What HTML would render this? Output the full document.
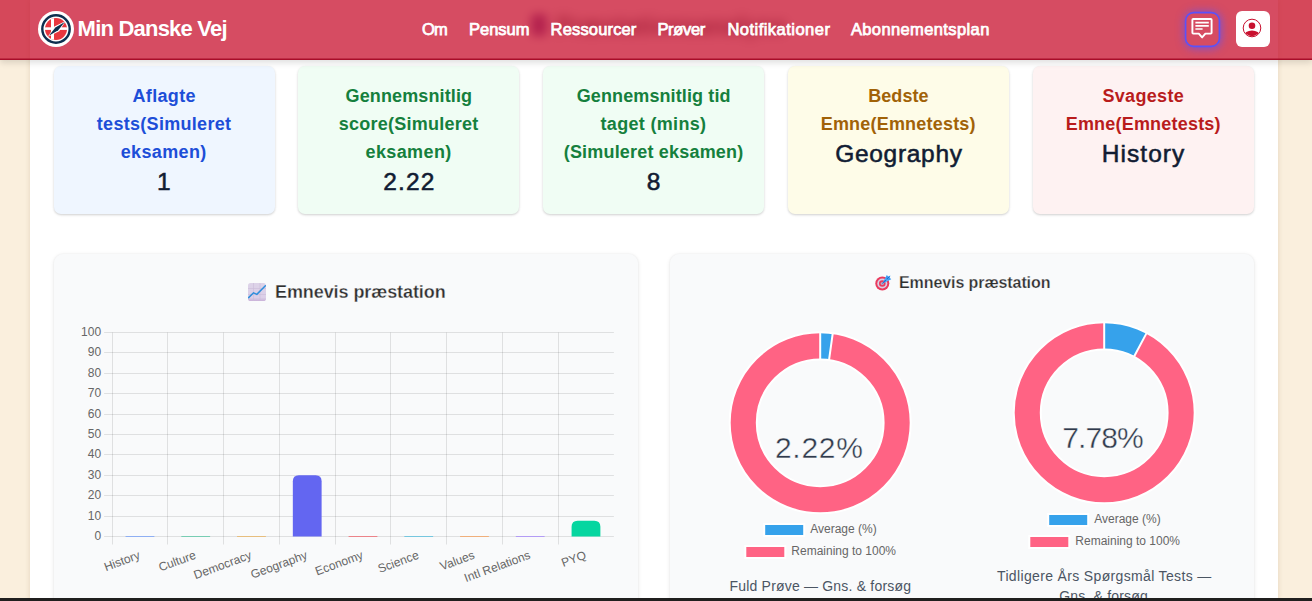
<!DOCTYPE html>
<html lang="da"><head><meta charset="utf-8"><title>Min Danske Vej</title>
<style>
*{box-sizing:border-box;margin:0;padding:0}
html,body{width:1312px;height:601px;overflow:hidden}
body{background:#faefdd;font-family:"Liberation Sans",sans-serif;position:relative}
.t{position:absolute;white-space:nowrap;line-height:1;font-family:"Liberation Sans",sans-serif}
.abs{position:absolute}
#wrap{position:absolute;left:30px;top:0;width:1248px;height:601px;background:#fff;box-shadow:0 0 5px rgba(120,90,40,.18)}
.card{position:absolute;top:66px;height:148px;border-radius:7px;box-shadow:0 1px 3px rgba(0,0,0,.12),0 1px 2px rgba(0,0,0,.08)}
.panel{position:absolute;top:254px;height:400px;width:584px;background:#f9fafb;border-radius:9px;box-shadow:0 1px 4px rgba(0,0,0,.10),0 0 2px rgba(0,0,0,.05)}
#hdr{position:absolute;left:0;top:0;width:1312px;height:60px;background:rgba(200,16,46,.75);border-bottom:1px solid #a80d29;box-shadow:inset 0 -1px 0 rgba(168,13,41,.5),0 3px 6px rgba(0,0,0,.12);z-index:5}
#hdrc{position:absolute;left:0;top:0;width:1312px;height:60px;z-index:6}
#botbar{position:absolute;left:0;top:598px;width:1312px;height:3px;background:#201f1e;z-index:9}
</style></head><body>
<div id="wrap"></div>

<div class="t" style="left:556px;top:14px;font-size:24px;font-weight:700;color:#4b5563;letter-spacing:0.2px;filter:blur(6px)">Pr&aelig;stationsanalyse</div>
<div class="abs" style="left:531px;top:14px;width:16px;height:22px;border-radius:4px;background:#7a5bb0;filter:blur(5px)"></div>
<div class="card" style="left:54px;width:221px;background:#eff6ff"></div>
<div class="card" style="left:298px;width:221px;background:#f0fdf4"></div>
<div class="card" style="left:543px;width:221px;background:#f0fdf4"></div>
<div class="card" style="left:788px;width:221px;background:#fefce8"></div>
<div class="card" style="left:1033px;width:221px;background:#fef2f2"></div>
<div class="t" style="left:132.50px;top:86px;font-size:18px;font-weight:700;color:#1d4ed8;letter-spacing:0.333px;line-height:20px;">Aflagte</div>
<div class="t" style="left:96.80px;top:114px;font-size:18px;font-weight:700;color:#1d4ed8;letter-spacing:0.300px;line-height:20px;">tests(Simuleret</div>
<div class="t" style="left:120.70px;top:142px;font-size:18px;font-weight:700;color:#1d4ed8;letter-spacing:0.357px;line-height:20px;">eksamen)</div>
<div class="t" style="left:157.00px;top:168px;font-size:24.5px;color:#111c33;letter-spacing:0.000px;-webkit-text-stroke:0.55px #111c33;line-height:27px;">1</div>
<div class="t" style="left:345.50px;top:86px;font-size:18px;font-weight:700;color:#15803d;letter-spacing:0.133px;line-height:20px;">Gennemsnitlig</div>
<div class="t" style="left:338.70px;top:114px;font-size:18px;font-weight:700;color:#15803d;letter-spacing:0.250px;line-height:20px;">score(Simuleret</div>
<div class="t" style="left:365.60px;top:142px;font-size:18px;font-weight:700;color:#15803d;letter-spacing:0.371px;line-height:20px;">eksamen)</div>
<div class="t" style="left:383.30px;top:168px;font-size:24.5px;color:#111c33;letter-spacing:1.100px;-webkit-text-stroke:0.55px #111c33;line-height:27px;">2.22</div>
<div class="t" style="left:576.70px;top:86px;font-size:18px;font-weight:700;color:#15803d;letter-spacing:0.112px;line-height:20px;">Gennemsnitlig tid</div>
<div class="t" style="left:600.50px;top:114px;font-size:18px;font-weight:700;color:#15803d;letter-spacing:0.327px;line-height:20px;">taget (mins)</div>
<div class="t" style="left:563.70px;top:142px;font-size:18px;font-weight:700;color:#15803d;letter-spacing:0.194px;line-height:20px;">(Simuleret eksamen)</div>
<div class="t" style="left:646.80px;top:168px;font-size:24.5px;color:#111c33;letter-spacing:0.000px;-webkit-text-stroke:0.55px #111c33;line-height:27px;">8</div>
<div class="t" style="left:868.20px;top:86px;font-size:18px;font-weight:700;color:#a16207;letter-spacing:0.080px;line-height:20px;">Bedste</div>
<div class="t" style="left:820.70px;top:114px;font-size:18px;font-weight:700;color:#a16207;letter-spacing:0.200px;line-height:20px;">Emne(Emnetests)</div>
<div class="t" style="left:835.20px;top:140px;font-size:24.5px;color:#111c33;letter-spacing:0.700px;-webkit-text-stroke:0.55px #111c33;line-height:27px;">Geography</div>
<div class="t" style="left:1102.40px;top:86px;font-size:18px;font-weight:700;color:#b91c1c;letter-spacing:0.329px;line-height:20px;">Svageste</div>
<div class="t" style="left:1065.70px;top:114px;font-size:18px;font-weight:700;color:#b91c1c;letter-spacing:0.200px;line-height:20px;">Emne(Emnetests)</div>
<div class="t" style="left:1101.80px;top:140px;font-size:24.5px;color:#111c33;letter-spacing:1.050px;-webkit-text-stroke:0.55px #111c33;line-height:27px;">History</div>
<div class="panel" style="left:54px"></div>
<div class="panel" style="left:670px"></div>
<svg class="abs" style="left:248px;top:283px" width="18" height="18" viewBox="0 0 18 18">
<defs><linearGradient id="lg1" x1="0" y1="0" x2="0" y2="1"><stop offset="0" stop-color="#ddd3e8"/><stop offset=".85" stop-color="#dccfe8"/><stop offset="1" stop-color="#c9b0d8"/></linearGradient></defs>
<rect x="0" y="0" width="18" height="18" rx="2.6" fill="url(#lg1)"/>
<path d="M5.5 0V18M12 0V18M0 5.5H18M0 11.5H18M0 16H18" stroke="#cbbcd9" stroke-width=".6" fill="none"/>
<path d="M.6 14.6L5.6 9.8L8.8 11.4L17.4 2.8" stroke="#2f8fdc" stroke-width="1.5" fill="none" stroke-linecap="round" stroke-linejoin="round"/>
</svg>
<div class="t" style="left:275.00px;top:282px;font-size:18px;font-weight:700;color:#2f2f2f;letter-spacing:-0.082px;line-height:20px;-webkit-text-stroke:0.3px #f9fafb;">Emnevis præstation</div>
<svg class="abs" style="left:874.5px;top:273.6px" width="17" height="17" viewBox="0 0 17 17">
<circle cx="7.3" cy="9.5" r="7" fill="#ea3a5e"/>
<circle cx="7.3" cy="9.5" r="5" fill="#d9cfe4"/>
<circle cx="7.3" cy="9.5" r="3.3" fill="#ea3a5e"/>
<circle cx="7.3" cy="9.5" r="1.6" fill="#b9a9c6"/>
<path d="M7.2 9.7L9.6 5.2L11.8 0.9L13.2 2.4L15.4 1.6L14.7 3.8L16.3 5.2L11.8 7.4Z" fill="#3d9df2"/>
<path d="M7.4 9.4L14.3 2.7" stroke="#1c64c8" stroke-width=".9"/>
<path d="M10.2 4.6L12.4 6.8" stroke="#8cc8ff" stroke-width=".7"/>
</svg>
<div class="t" style="left:899.00px;top:274px;font-size:16px;font-weight:700;color:#2f2f2f;letter-spacing:-0.088px;line-height:17px;-webkit-text-stroke:0.25px #f9fafb;">Emnevis præstation</div>
<svg class="abs" style="left:0;top:0" width="1312" height="601" viewBox="0 0 1312 601" font-family="Liberation Sans, sans-serif">
<path d="M104.1 536.5H613.9" stroke="#000" stroke-opacity="0.1" stroke-width="1"/>
<text x="101.1" y="539.9" text-anchor="end" font-size="12" fill="#666">0</text>
<path d="M104.1 516.5H613.9" stroke="#000" stroke-opacity="0.1" stroke-width="1"/>
<text x="101.1" y="519.9" text-anchor="end" font-size="12" fill="#666">10</text>
<path d="M104.1 495.5H613.9" stroke="#000" stroke-opacity="0.1" stroke-width="1"/>
<text x="101.1" y="498.9" text-anchor="end" font-size="12" fill="#666">20</text>
<path d="M104.1 475.5H613.9" stroke="#000" stroke-opacity="0.1" stroke-width="1"/>
<text x="101.1" y="478.9" text-anchor="end" font-size="12" fill="#666">30</text>
<path d="M104.1 454.5H613.9" stroke="#000" stroke-opacity="0.1" stroke-width="1"/>
<text x="101.1" y="457.9" text-anchor="end" font-size="12" fill="#666">40</text>
<path d="M104.1 434.5H613.9" stroke="#000" stroke-opacity="0.1" stroke-width="1"/>
<text x="101.1" y="437.9" text-anchor="end" font-size="12" fill="#666">50</text>
<path d="M104.1 414.5H613.9" stroke="#000" stroke-opacity="0.1" stroke-width="1"/>
<text x="101.1" y="417.9" text-anchor="end" font-size="12" fill="#666">60</text>
<path d="M104.1 393.5H613.9" stroke="#000" stroke-opacity="0.1" stroke-width="1"/>
<text x="101.1" y="396.9" text-anchor="end" font-size="12" fill="#666">70</text>
<path d="M104.1 373.5H613.9" stroke="#000" stroke-opacity="0.1" stroke-width="1"/>
<text x="101.1" y="376.9" text-anchor="end" font-size="12" fill="#666">80</text>
<path d="M104.1 352.5H613.9" stroke="#000" stroke-opacity="0.1" stroke-width="1"/>
<text x="101.1" y="355.9" text-anchor="end" font-size="12" fill="#666">90</text>
<path d="M104.1 332.5H613.9" stroke="#000" stroke-opacity="0.1" stroke-width="1"/>
<text x="101.1" y="335.9" text-anchor="end" font-size="12" fill="#666">100</text>
<path d="M112.5 332.5V544.5" stroke="#000" stroke-opacity="0.1" stroke-width="1"/>
<path d="M167.5 332.5V544.5" stroke="#000" stroke-opacity="0.1" stroke-width="1"/>
<path d="M223.5 332.5V544.5" stroke="#000" stroke-opacity="0.1" stroke-width="1"/>
<path d="M279.5 332.5V544.5" stroke="#000" stroke-opacity="0.1" stroke-width="1"/>
<path d="M335.5 332.5V544.5" stroke="#000" stroke-opacity="0.1" stroke-width="1"/>
<path d="M390.5 332.5V544.5" stroke="#000" stroke-opacity="0.1" stroke-width="1"/>
<path d="M446.5 332.5V544.5" stroke="#000" stroke-opacity="0.1" stroke-width="1"/>
<path d="M502.5 332.5V544.5" stroke="#000" stroke-opacity="0.1" stroke-width="1"/>
<path d="M558.5 332.5V544.5" stroke="#000" stroke-opacity="0.1" stroke-width="1"/>
<path d="M125.57 536.5H154.38" stroke="#7aa2f7" stroke-width="1" stroke-opacity=".8"/>
<text transform="translate(136.97 547.5) rotate(-20.3)" x="0" y="11.4" text-anchor="end" font-size="12" fill="#666">History</text>
<path d="M181.32 536.5H210.12" stroke="#5ec8a8" stroke-width="1" stroke-opacity=".8"/>
<text transform="translate(192.72 547.5) rotate(-20.3)" x="0" y="11.4" text-anchor="end" font-size="12" fill="#666">Culture</text>
<path d="M237.07 536.5H265.88" stroke="#e9b565" stroke-width="1" stroke-opacity=".8"/>
<text transform="translate(248.47 547.5) rotate(-20.3)" x="0" y="11.4" text-anchor="end" font-size="12" fill="#666">Democracy</text>
<path d="M292.83 536.5V481.30Q292.83 475.30 298.83 475.30H315.62Q321.62 475.30 321.62 481.30V536.5Z" fill="#6366f1"/>
<text transform="translate(304.23 547.5) rotate(-20.3)" x="0" y="11.4" text-anchor="end" font-size="12" fill="#666">Geography</text>
<path d="M348.58 536.5H377.38" stroke="#ef6b73" stroke-width="1" stroke-opacity=".8"/>
<text transform="translate(359.98 547.5) rotate(-20.3)" x="0" y="11.4" text-anchor="end" font-size="12" fill="#666">Economy</text>
<path d="M404.33 536.5H433.12" stroke="#5bc0de" stroke-width="1" stroke-opacity=".8"/>
<text transform="translate(415.73 547.5) rotate(-20.3)" x="0" y="11.4" text-anchor="end" font-size="12" fill="#666">Science</text>
<path d="M460.08 536.5H488.88" stroke="#f4a261" stroke-width="1" stroke-opacity=".8"/>
<text transform="translate(471.48 547.5) rotate(-20.3)" x="0" y="11.4" text-anchor="end" font-size="12" fill="#666">Values</text>
<path d="M515.83 536.5H544.62" stroke="#a78bfa" stroke-width="1" stroke-opacity=".8"/>
<text transform="translate(527.23 547.5) rotate(-20.3)" x="0" y="11.4" text-anchor="end" font-size="12" fill="#666">Intl Relations</text>
<path d="M571.58 536.5V526.63Q571.58 520.63 577.58 520.63H594.38Q600.38 520.63 600.38 526.63V536.5Z" fill="#06d6a0"/>
<text transform="translate(582.98 547.5) rotate(-20.3)" x="0" y="11.4" text-anchor="end" font-size="12" fill="#666">PYQ</text>
<circle cx="820.2" cy="422.8" r="76.95" fill="none" stroke="#ff6384" stroke-width="27.1"/><path d="M820.20 332.30A90.5 90.5 0 0 1 832.78 333.18L829.01 360.02A63.4 63.4 0 0 0 820.20 359.40Z" fill="#36a2eb"/><path d="M820.20 332.30L820.20 359.40M832.78 333.18L829.01 360.02" stroke="#fff" stroke-width="2"/><circle cx="820.2" cy="422.8" r="90.5" fill="none" stroke="#fff" stroke-width="2"/><circle cx="820.2" cy="422.8" r="63.4" fill="none" stroke="#fff" stroke-width="2"/>
<circle cx="1104.2" cy="412.8" r="76.95" fill="none" stroke="#ff6384" stroke-width="27.1"/><path d="M1104.20 322.30A90.5 90.5 0 0 1 1146.70 332.90L1133.97 356.83A63.4 63.4 0 0 0 1104.20 349.40Z" fill="#36a2eb"/><path d="M1104.20 322.30L1104.20 349.40M1146.70 332.90L1133.97 356.83" stroke="#fff" stroke-width="2"/><circle cx="1104.2" cy="412.8" r="90.5" fill="none" stroke="#fff" stroke-width="2"/><circle cx="1104.2" cy="412.8" r="63.4" fill="none" stroke="#fff" stroke-width="2"/>
<rect x="764.2" y="524" width="40" height="12" fill="#36a2eb" stroke="#fff" stroke-width="2"/><text x="810.2" y="533.3" font-size="12" fill="#666">Average (%)</text><rect x="745.3" y="546" width="40" height="12" fill="#ff6384" stroke="#fff" stroke-width="2"/><text x="791.3" y="555.3" font-size="12" fill="#666">Remaining to 100%</text>
<rect x="1048.2" y="514" width="40" height="12" fill="#36a2eb" stroke="#fff" stroke-width="2"/><text x="1094.2" y="523.3" font-size="12" fill="#666">Average (%)</text><rect x="1029.3" y="536" width="40" height="12" fill="#ff6384" stroke="#fff" stroke-width="2"/><text x="1075.3" y="545.3" font-size="12" fill="#666">Remaining to 100%</text>
</svg>
<div class="t" style="left:774.90px;top:431px;font-size:30px;color:#303a4c;letter-spacing:0.750px;line-height:33px;-webkit-text-stroke:0.4px #f9fafb;">2.22%</div>
<div class="t" style="left:1062.20px;top:421px;font-size:30px;color:#303a4c;letter-spacing:-0.875px;line-height:33px;-webkit-text-stroke:0.4px #f9fafb;">7.78%</div>
<div class="t" style="left:729.50px;top:578px;font-size:14px;color:#4b5563;letter-spacing:0.196px;line-height:16px;">Fuld Prøve — Gns. &amp; forsøg</div>
<div class="t" style="left:997.00px;top:568px;font-size:14px;color:#4b5563;letter-spacing:0.347px;line-height:16px;">Tidligere Års Spørgsmål Tests —</div>
<div class="t" style="left:1059.20px;top:588px;font-size:14px;color:#4b5563;letter-spacing:0.183px;line-height:16px;">Gns. &amp; forsøg</div>
<div id="hdr"></div><div id="hdrc">
<svg class="abs" style="left:37.6px;top:11.1px" width="36" height="36" viewBox="0 0 36 36">
<defs><clipPath id="fc"><circle cx="18" cy="18" r="11"/></clipPath></defs>
<circle cx="18" cy="18" r="18" fill="#fff"/>
<circle cx="18" cy="18" r="13.7" fill="none" stroke="#0d2f4f" stroke-width="2.4"/>
<g clip-path="url(#fc)"><rect x="6" y="6" width="24" height="24" fill="#e8373f"/>
<rect x="13" y="6" width="3" height="24" fill="#fff"/><rect x="6" y="16.3" width="24" height="2.6" fill="#fff"/></g>
<path d="M9.9 25.7L16.4 15.5L27.7 10.1L21.2 20.3Z" fill="#fff"/><path d="M10.9 24.8L17.4 16.5L26.8 10.9L20.2 19.2Z" fill="#0d2f4f"/>
</svg>
<div class="t" style="left:77.60px;top:16px;font-size:22px;font-weight:700;color:#fff;letter-spacing:-0.785px;line-height:25px;">Min Danske Vej</div>
<div class="t" style="left:421.90px;top:20px;font-size:16.5px;color:#fff;letter-spacing:-0.800px;-webkit-text-stroke:0.75px #fff;line-height:18px;">Om</div>
<div class="t" style="left:469.00px;top:20px;font-size:16.5px;color:#fff;letter-spacing:-0.020px;-webkit-text-stroke:0.75px #fff;line-height:18px;">Pensum</div>
<div class="t" style="left:550.60px;top:20px;font-size:16.5px;color:#fff;letter-spacing:0.156px;-webkit-text-stroke:0.75px #fff;line-height:18px;">Ressourcer</div>
<div class="t" style="left:657.40px;top:20px;font-size:16.5px;color:#fff;letter-spacing:-0.320px;-webkit-text-stroke:0.75px #fff;line-height:18px;">Prøver</div>
<div class="t" style="left:727.40px;top:20px;font-size:16.5px;color:#fff;letter-spacing:0.477px;-webkit-text-stroke:0.75px #fff;line-height:18px;">Notifikationer</div>
<div class="t" style="left:850.90px;top:20px;font-size:16.5px;color:#fff;letter-spacing:0.386px;-webkit-text-stroke:0.75px #fff;line-height:18px;">Abonnementsplan</div>
<div class="abs" style="left:1185.5px;top:12.5px;width:34px;height:34px;border-radius:8.5px;box-shadow:0 0 8px 1.5px rgba(92,84,250,.7)"></div>
<svg class="abs" style="left:1180px;top:7px" width="46" height="46" viewBox="0 0 46 46">
<rect x="5.6" y="5.6" width="33.8" height="33.8" rx="8" fill="none" stroke="#5a52fa" stroke-width="1.6"/>
<path d="M13.2 12H30.8Q31.6 12 31.6 12.8V25.8Q31.6 26.6 30.8 26.6H25.4L22.1 30.4L18.8 26.6H13.2Q12.4 26.6 12.4 25.8V12.8Q12.4 12 13.2 12Z" fill="none" stroke="#fff" stroke-width="1.9" stroke-linejoin="round"/>
<path d="M15.4 15.6H28.8M15.4 18.9H28.8M15.4 22H22.6" stroke="#fff" stroke-width="1.7"/>
</svg>
<div class="abs" style="left:1236px;top:11px;width:34px;height:36px;border-radius:6px;background:#fff"></div>
<svg class="abs" style="left:1242.4px;top:18px" width="20" height="20" viewBox="0 0 20 20">
<defs><clipPath id="uc"><circle cx="10" cy="10" r="8.3"/></clipPath></defs>
<circle cx="10" cy="10" r="8.8" fill="#fff" stroke="#c8102e" stroke-width="1"/>
<circle cx="10" cy="7.8" r="3.3" fill="#c8102e"/>
<ellipse cx="10" cy="17.6" rx="8" ry="5.2" fill="#c8102e" clip-path="url(#uc)"/>
</svg>
</div>
<div id="botbar"></div>
</body></html>
